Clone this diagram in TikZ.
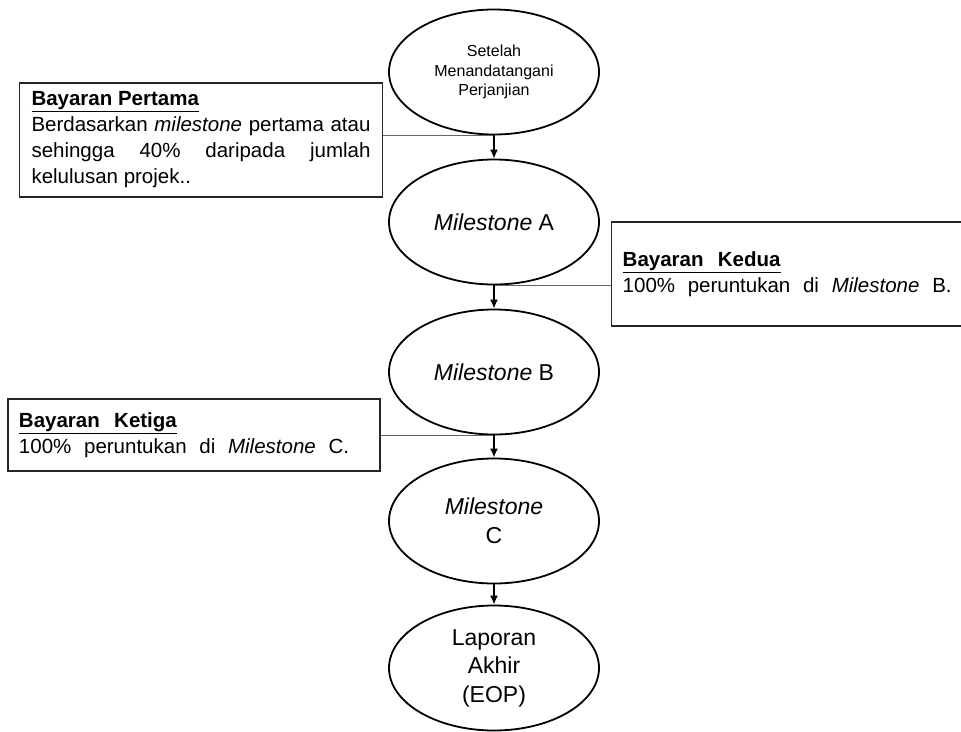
\documentclass[tikz,border=0pt]{standalone}
\usepackage{fontspec}
\setmainfont{Liberation Sans}
\usetikzlibrary{shapes.geometric,arrows.meta}
\begin{document}
\begin{tikzpicture}[x=1pt,y=-1pt,
  ell/.style={ellipse,draw=black,line width=1.8pt,minimum width=210pt,minimum height=125pt,inner sep=0pt,align=center},
  bigtxt/.style={font=\fontsize{23}{28.5}\selectfont},
  box/.style={draw=black!85,line width=1.4pt,inner ysep=0pt,font=\fontsize{20.5}{26}\selectfont},
  flow/.style={draw=black,line width=1.6pt,-{Latex[length=9pt,width=8pt]}},
  link/.style={draw=black!60,line width=1pt}]
\useasboundingbox (0,0) rectangle (961,731);
% ellipses
\node[ell,font=\fontsize{16}{19.5}\selectfont] (e1) at (494,72) {Setelah\\Menandatangani\\Perjanjian};
\node[ell,bigtxt] (e2) at (494,222) {\textit{Milestone} A};
\node[ell,bigtxt] (e3) at (494,372) {\textit{Milestone} B};
\node[ell,bigtxt] (e4) at (494,521) {\textit{Milestone}\\C};
\node[ell,bigtxt] (e5) at (494,668) {Laporan\\Akhir\\(EOP)};
% boxes
\node[box,text width=339pt,inner xsep=12pt,minimum height=114pt,align=justify] (p) at (201,140)
  {\underline{\textbf{Bayaran Pertama}}\\
   Berdasarkan \textit{milestone} pertama atau\linebreak
   sehingga 40\% daripada jumlah\linebreak
   kelulusan projek..};
\node[box,text width=340pt,inner xsep=11pt,minimum height=104pt,align=left,anchor=west] (k2) at (611,274)
  {\underline{\textbf{Bayaran\hspace{0.7em}Kedua}}\\
   {\spaceskip=0.62em 100\% peruntukan di \textit{Milestone} B.}};
\node[box,text width=350pt,inner xsep=11pt,minimum height=72pt,align=left] (k3) at (194,435)
  {\underline{\textbf{Bayaran\hspace{0.7em}Ketiga}}\\
   {\spaceskip=0.62em 100\% peruntukan di \textit{Milestone} C.}};
% thin connectors
\draw[link] (e1.south) -- (e1.south -| p.east);
\draw[link] (e2.south) -- (e2.south -| k2.west);
\draw[link] (e3.south) -- (e3.south -| k3.east);
% flow arrows
\draw[flow] (e1) -- (e2);
\draw[flow] (e2) -- (e3);
\draw[flow] (e3) -- (e4);
\draw[flow] (e4) -- (e5);
\end{tikzpicture}
\end{document}
